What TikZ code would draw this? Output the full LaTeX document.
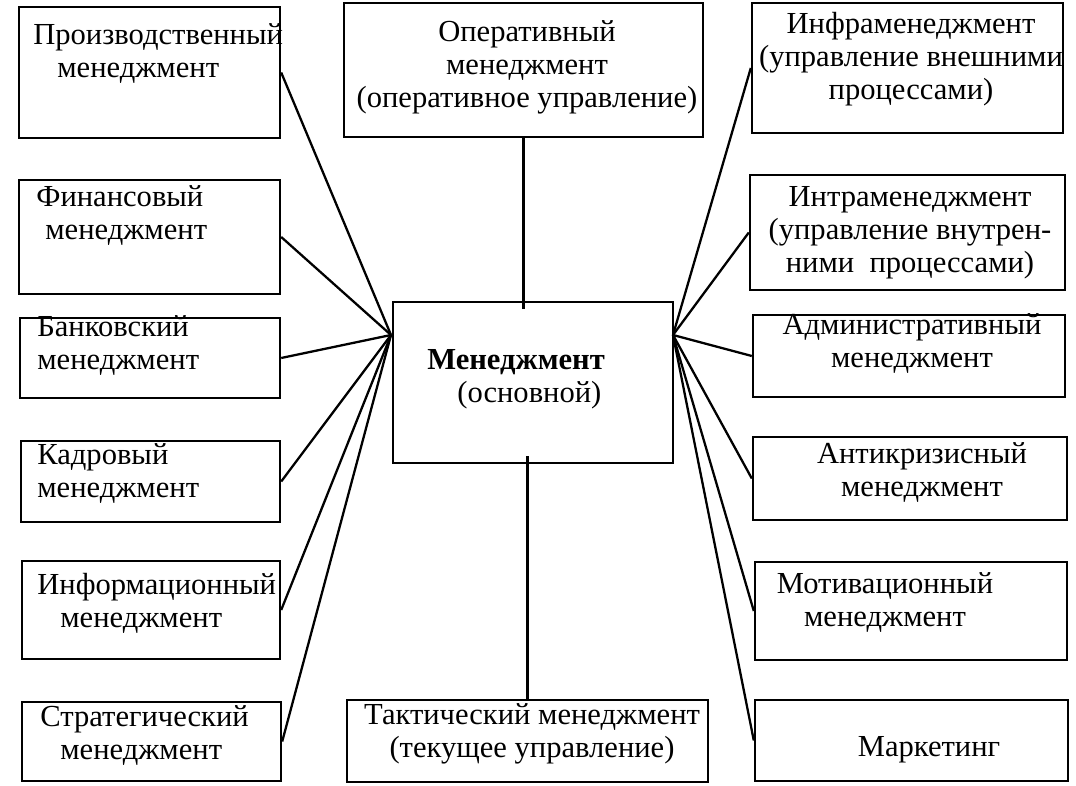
\documentclass[tikz,border=0pt]{standalone}
\usepackage{fontspec}
\setmainfont{Liberation Serif}
\tikzset{
  box/.style={draw, line width=1.4pt, inner sep=0pt},
  txt/.style={inner sep=0pt, font=\fontsize{17.4}{19}\selectfont},
  txtl/.style={txt, align=left, anchor=base west},
  txtc/.style={txt, align=center, anchor=base},
  link/.style={line width=1.3pt},
}
\begin{document}
\begin{tikzpicture}[x=0.02cm, y=-0.02cm]
            \useasboundingbox (0,0) rectangle (1076,786);

            % Центральный блок
            \node[box, minimum width=5.6cm, minimum height=3.22cm] (main) at (533,382.5) {};
            \node[txtl] (mainT) at (427,403) {\textbf{Менеджмент}\\\hspace*{0.6cm}(основной)};

            % Точки схода линий
            \coordinate (hubL) at (391,335);
            \coordinate (hubR) at (673,335);

            % Левый столбец
            \node[box, minimum width=5.22cm, minimum height=2.62cm] (prod) at (149.5,72.5) {};
            \node[box, minimum width=5.22cm, minimum height=2.28cm] (fin) at (149.5,237) {};
            \node[box, minimum width=5.2cm, minimum height=1.6cm] (bank) at (150,358) {};
            \node[box, minimum width=5.18cm, minimum height=1.62cm] (kadr) at (150.5,481.5) {};
            \node[box, minimum width=5.16cm, minimum height=1.96cm] (info) at (151,610) {};
            \node[box, minimum width=5.18cm, minimum height=1.58cm] (strat) at (151.5,741.5) {};

            \node[txtl] (prodT) at (33,78) {Производственный\\\hspace*{0.48cm}менеджмент};
            \node[txtl] (finT) at (36,240) {Финансовый\\\hspace*{0.18cm}менеджмент};
            \node[txtl] (bankT) at (37,370) {Банковский\\менеджмент};
            \node[txtl] (kadrT) at (37,498) {Кадровый\\менеджмент};
            \node[txtl] (infoT) at (37,628) {Информационный\\\hspace*{0.46cm}менеджмент};
            \node[txtl] (stratT) at (40,760) {Стратегический\\\hspace*{0.4cm}менеджмент};

            % Средний столбец
            \node[box, minimum width=7.18cm, minimum height=2.68cm] (oper) at (523.5,70) {};
            \node[box, minimum width=7.22cm, minimum height=1.64cm] (tact) at (527.5,741) {};
            \node[txtc] (operT) at (527,108) {Оперативный\\менеджмент\\(оперативное управление)};
            \node[txtc] (tactT) at (532,758) {Тактический менеджмент\\(текущее управление)};

            % Правый столбец
            \node[box, minimum width=6.22cm, minimum height=2.6cm] (infra) at (907.5,68) {};
            \node[box, minimum width=6.3cm, minimum height=2.3cm] (intra) at (907.5,232.5) {};
            \node[box, minimum width=6.24cm, minimum height=1.64cm] (admin) at (909,356) {};
            \node[box, minimum width=6.28cm, minimum height=1.66cm] (anti) at (910,478.5) {};
            \node[box, minimum width=6.24cm, minimum height=1.96cm] (motiv) at (911,611) {};
            \node[box, minimum width=6.26cm, minimum height=1.62cm] (market) at (911.5,740.5) {};

            \node[txtc] (infraT) at (911,100) {Инфраменеджмент\\(управление внешними\\процессами)};
            \node[txtc] (intraT) at (910,273) {Интраменеджмент\\(управление внутрен-\\ними\ \ процессами)};
            \node[txtc] (adminT) at (912,368) {Административный\\менеджмент};
            \node[txtc] (antiT) at (922,497) {Антикризисный\\менеджмент};
            \node[txtc] (motivT) at (885,627) {Мотивационный\\менеджмент};
            \node[txtc] (marketT) at (929,757) {Маркетинг};

            % Вертикальные связи
            \draw[link, shorten >=-0.16cm] (oper.south) -- (oper.south |- main.north);
            \draw[link, shorten >=-0.16cm] (tact.north) -- (tact.north |- main.south);

            % Связи слева
            \draw[link] (prod.east) -- (hubL);
            \draw[link] (fin.east) -- (hubL);
            \draw[link] (bank.east) -- (hubL);
            \draw[link] (kadr.east) -- (hubL);
            \draw[link] (info.east) -- (hubL);
            \draw[link] (strat.east) -- (hubL);

            % Связи справа
            \draw[link] (infra.west) -- (hubR);
            \draw[link] (intra.west) -- (hubR);
            \draw[link] (admin.west) -- (hubR);
            \draw[link] (anti.west) -- (hubR);
            \draw[link] (motiv.west) -- (hubR);
            \draw[link] (market.west) -- (hubR);
\end{tikzpicture}
\end{document}
